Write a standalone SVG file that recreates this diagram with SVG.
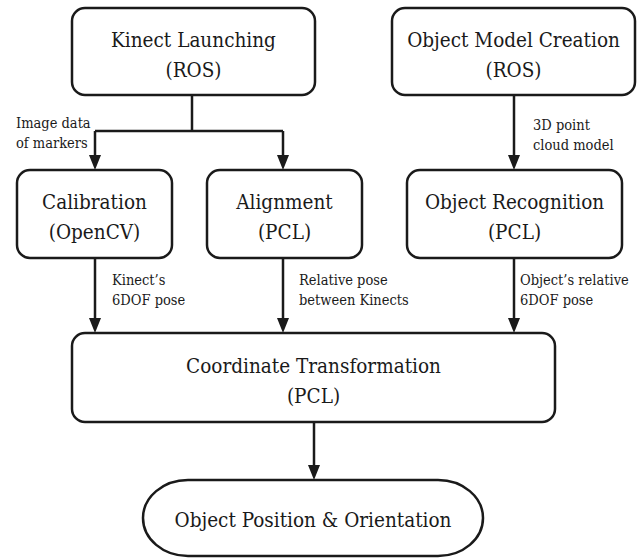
<svg xmlns="http://www.w3.org/2000/svg" width="639" height="558" viewBox="0 0 639 558">
<style>
.box{fill:#fff;stroke:#1a1a1a;stroke-width:2.5}
.t{font-size:20.5px;fill:#1a1a1a;text-anchor:middle}
.s{font-size:14.5px;fill:#1a1a1a}
.c{fill:none;stroke:#1a1a1a;stroke-width:2.5}
.ah{fill:#1a1a1a}
</style>
<rect width="639" height="558" fill="#fff"/>
<g font-family="DejaVu Serif Condensed, DejaVu Serif, serif" font-stretch="condensed">
<g id="connectors">
<path class="c" d="M192,95 V131"/>
<path class="c" d="M95,131 H283"/>
<path d="M95,131 V155" class="c"/>
<path class="ah" d="M89,155 L101,155 L95,170 Z"/>
<path d="M283,131 V155" class="c"/>
<path class="ah" d="M277,155 L289,155 L283,170 Z"/>
<path d="M514,95 V155" class="c"/>
<path class="ah" d="M508,155 L520,155 L514,170 Z"/>
<path d="M95,258 V318" class="c"/>
<path class="ah" d="M89,318 L101,318 L95,333 Z"/>
<path d="M283,258 V318" class="c"/>
<path class="ah" d="M277,318 L289,318 L283,333 Z"/>
<path d="M514,258 V318" class="c"/>
<path class="ah" d="M508,318 L520,318 L514,333 Z"/>
<path d="M314,422 V465" class="c"/>
<path class="ah" d="M308,465 L320,465 L314,480 Z"/>
<text class="s" x="16" y="128">Image data</text>
<text class="s" x="16" y="148">of markers</text>
<text class="s" x="533" y="130">3D point</text>
<text class="s" x="533" y="150">cloud model</text>
<text class="s" x="112" y="285">Kinect’s</text>
<text class="s" x="112" y="305">6DOF pose</text>
<text class="s" x="299" y="285">Relative pose</text>
<text class="s" x="299" y="305">between Kinects</text>
<text class="s" x="520" y="285">Object’s relative</text>
<text class="s" x="520" y="305">6DOF pose</text>
</g>
<g id="kinect">
<rect class="box" x="72" y="8" width="243" height="87" rx="13"/>
<text class="t" x="193.5" y="47">Kinect Launching</text>
<text class="t" x="193.5" y="77">(ROS)</text>
</g>
<g id="model">
<rect class="box" x="392" y="8" width="243" height="87" rx="13"/>
<text class="t" x="513.5" y="47">Object Model Creation</text>
<text class="t" x="513.5" y="77">(ROS)</text>
</g>
<g id="calibration">
<rect class="box" x="17" y="170" width="155" height="88" rx="13"/>
<text class="t" x="94.5" y="209">Calibration</text>
<text class="t" x="94.5" y="239">(OpenCV)</text>
</g>
<g id="alignment">
<rect class="box" x="207" y="170" width="155" height="88" rx="13"/>
<text class="t" x="284.5" y="209">Alignment</text>
<text class="t" x="284.5" y="239">(PCL)</text>
</g>
<g id="recognition">
<rect class="box" x="407" y="170" width="215" height="88" rx="13"/>
<text class="t" x="514.5" y="209">Object Recognition</text>
<text class="t" x="514.5" y="239">(PCL)</text>
</g>
<g id="transform">
<rect class="box" x="72" y="333" width="483" height="89" rx="13"/>
<text class="t" x="313.5" y="373">Coordinate Transformation</text>
<text class="t" x="313.5" y="403">(PCL)</text>
</g>
<g id="output">
<rect class="box" x="143" y="480" width="340" height="76" rx="45" ry="38"/>
<text class="t" x="313" y="527">Object Position &amp; Orientation</text>
</g>
</g>
</svg>
